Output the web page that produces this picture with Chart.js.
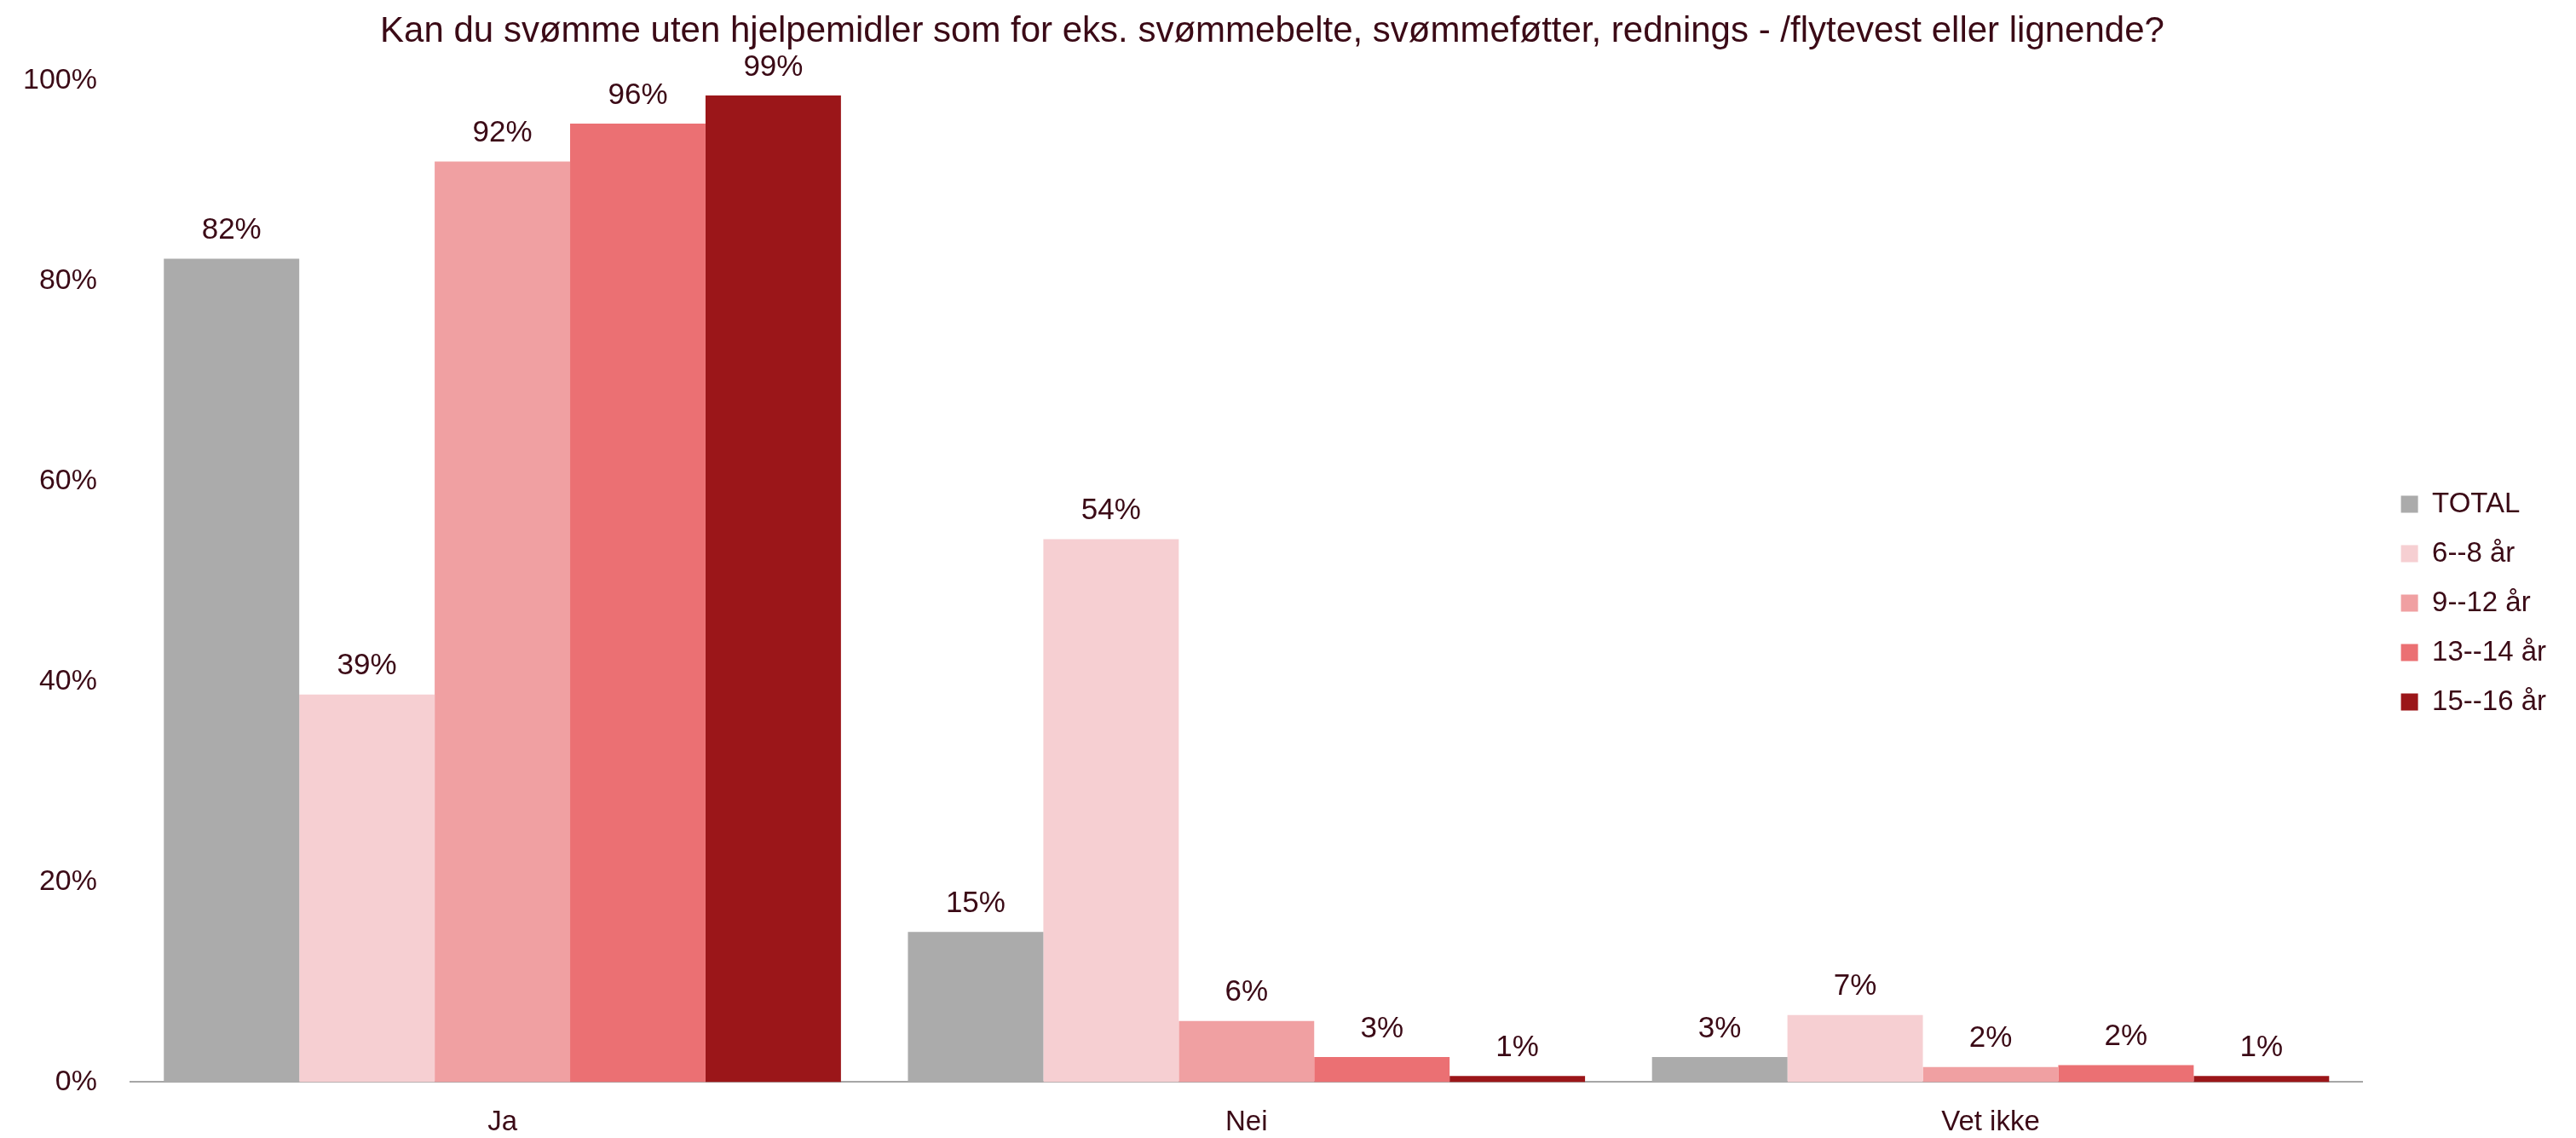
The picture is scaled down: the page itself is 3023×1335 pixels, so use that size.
<!DOCTYPE html>
<html>
<head>
<meta charset="utf-8">
<script src="https://cdn.jsdelivr.net/npm/chart.js@4/dist/chart.umd.min.js"></script>
<style>
  html, body { margin: 0; padding: 0; background: #fff; }
  #wrap { width: 3023px; height: 1335px; }
</style>
</head>
<body>
<div id="wrap"><canvas id="swim-chart" width="3023" height="1335"></canvas></div>
<script>
// categories and series
const categories = ['Ja', 'Nei', 'Vet ikke'];
const seriesNames = ['TOTAL', '6--8 år', '9--12 år', '13--14 år', '15--16 år'];
const total = [82.2, 15.0, 2.5];
const age6to8 = [38.7, 54.2, 6.7];
const age9to12 = [91.9, 6.1, 1.5];
const age13to14 = [95.7, 2.5, 1.7];
const age15to16 = [98.5, 0.6, 0.6];
const yTicks = [0, 20, 40, 60, 80, 100];

const colors = ['#ABABAB', '#F6CFD2', '#F0A0A2', '#EB7073', '#9B1619'];
const textColor = '#3B0A16';
const fontFamily = '"Liberation Sans", Arial, sans-serif';

const seriesValues = [total, age6to8, age9to12, age13to14, age15to16];
const legendGap = 20; // extra room between plot and legend

// draws the % value above each bar (no datalabels plugin available offline)
const valueLabels = {
  id: 'valueLabels',
  afterDatasetsDraw(chart) {
    const ctx = chart.ctx;
    ctx.save();
    ctx.fillStyle = textColor;
    ctx.font = '35px ' + fontFamily;
    ctx.textAlign = 'center';
    ctx.textBaseline = 'middle';
    chart.data.datasets.forEach((ds, i) => {
      const meta = chart.getDatasetMeta(i);
      meta.data.forEach((bar, j) => {
        ctx.fillText(Math.round(ds.data[j]) + '%', bar.x, bar.y - 33);
      });
    });
    ctx.restore();
  }
};

// widen the legend box a bit, then move its items back right
const spaceLegend = {
  id: 'spaceLegend',
  beforeLayout(chart) {
    const legend = chart.legend;
    if (legend && !legend._gapPatched) {
      const fit = legend.fit;
      legend.fit = function () {
        fit.call(this);
        this.width += legendGap;
      };
      legend._gapPatched = true;
    }
  },
  afterLayout(chart) {
    if (chart.legend) chart.legend.left += legendGap;
  }
};

const ctx = document.getElementById('swim-chart').getContext('2d');

new Chart(ctx, {
  type: 'bar',
  data: {
    labels: categories,
    datasets: seriesNames.map((name, i) => ({
      label: name,
      data: seriesValues[i],
      backgroundColor: colors[i],
      borderWidth: 0,
      categoryPercentage: 0.91,
      barPercentage: 1.0,
    })),
  },
  options: {
    responsive: false,
    animation: false,
    devicePixelRatio: 1,
    layout: {
      padding: { left: -12, right: 25, top: 0, bottom: -30 },
    },
    scales: {
      x: {
        grid: { display: false, drawTicks: false },
        border: { display: true, color: '#A6A6A6', width: 2 },
        ticks: { color: textColor, font: { family: fontFamily, size: 33 }, padding: 28 },
      },
      y: {
        min: 0,
        max: 100,
        afterBuildTicks: (axis) => { axis.ticks = yTicks.map((v) => ({ value: v })); },
        grid: { display: false, drawTicks: false },
        border: { display: false },
        ticks: {
          color: textColor,
          font: { family: fontFamily, size: 34 },
          padding: 39,
          callback: (v) => v + '%',
        },
      },
    },
    plugins: {
      title: {
        display: true,
        text: 'Kan du svømme uten hjelpemidler som for eks. svømmebelte, svømmeføtter, rednings - /flytevest eller lignende?',
        color: textColor,
        font: { family: fontFamily, size: 42, weight: 'normal' },
        padding: { top: 12, bottom: 32 },
      },
      legend: {
        position: 'right',
        title: {
          display: true,
          text: '',
          font: { size: 10 },
          padding: { top: 38, bottom: 0 },
        },
        labels: {
          color: textColor,
          font: { family: fontFamily, size: 33 },
          boxWidth: 20,
          boxHeight: 20,
          padding: 25,
        },
      },
      tooltip: { enabled: false },
    },
  },
  plugins: [valueLabels, spaceLegend],
});
</script>
</body>
</html>
